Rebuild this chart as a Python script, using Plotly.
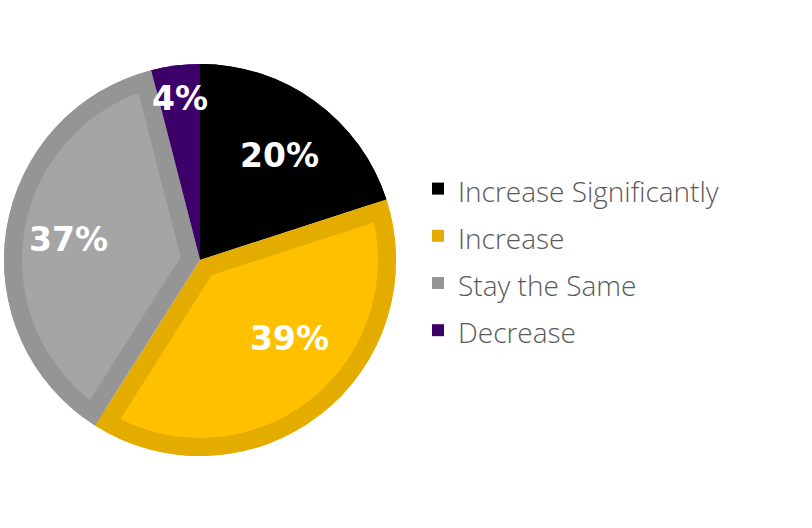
import math
import plotly.graph_objects as go

# ---- data ----
labels = ["Increase Significantly", "Increase", "Stay the Same", "Decrease"]
values = [20, 39, 37, 4]
fill_colors = ["#000000", "#FFC000", "#A5A5A5", "#3D0069"]
edge_colors = ["#000000", "#E5AC00", "#959595", "#3D0069"]

# ---- geometry / style ----
W, H = 812, 528
CX, CY, R = 200, 260, 196
BAND = 18
LEG_FONT = 34      # controls legend row spacing
LEG_TEXT = 28      # visible legend text size
# label placement: radius fraction and angular nudge (deg) per slice
LABEL_RFRAC = [0.67, 0.61, 0.68, 0.83]
LABEL_DANG = [1, -11, 0, 0]

def dom(cx, cy, half):
    return dict(x=[(cx - half) / W, (cx + half) / W],
                y=[1 - (cy + half) / H, 1 - (cy - half) / H])

total = sum(values)
half_ang = [math.pi * v / total for v in values]

# inner (lighter) slices: pulled so their straight edges sit BAND px inside
inset = [f != e for f, e in zip(fill_colors, edge_colors)]
offs = [BAND / math.sin(a) if ins else 0 for a, ins in zip(half_ang, inset)]
need = []
for a, d, ins in zip(half_ang, offs, inset):
    if ins:
        c = math.cos(a)
        Rin = R - BAND
        b = 2 * d * c
        need.append((-b + math.sqrt(b * b - 4 * (d * d - Rin * Rin))) / 2)
R2 = max(need)
pulls = [d / R2 for d in offs]
half2 = R2 * (1 + max(pulls))

leg_labels = [f'<span style="font-size:{LEG_TEXT}px">{l}</span>' for l in labels]

common = dict(labels=leg_labels, values=values, sort=False, direction="clockwise",
              rotation=0, hoverinfo="skip", textinfo="none")

fig = go.Figure()
# 1: full pie in border colours (also the legend)
fig.add_trace(go.Pie(**common, domain=dom(CX, CY, R),
                     marker=dict(colors=edge_colors, line=dict(width=0)),
                     showlegend=True))
# 2: lighter inset fills
fig.add_trace(go.Pie(**common, domain=dom(CX, CY, half2), pull=pulls,
                     marker=dict(colors=[f if ins else "rgba(0,0,0,0)"
                                         for f, ins in zip(fill_colors, inset)],
                                 line=dict(width=0)),
                     showlegend=False))
# 3: outer ring in border colours
fig.add_trace(go.Pie(**common, domain=dom(CX, CY, R), hole=(R - BAND) / R,
                     marker=dict(colors=edge_colors, line=dict(width=0)),
                     showlegend=False))

# percentage labels placed along each slice's bisector
annotations = []
cum = 0
for v, rf, da in zip(values, LABEL_RFRAC, LABEL_DANG):
    mid = 2 * math.pi * (cum + v / 2) / total + math.radians(da)
    cum += v
    px = CX + rf * R * math.sin(mid)
    py = CY - rf * R * math.cos(mid)
    annotations.append(dict(x=px / W, y=1 - py / H, xref="paper", yref="paper",
                            text=f"{round(100 * v / total)}%", showarrow=False,
                            xanchor="center", yanchor="middle",
                            font=dict(family="DejaVu Sans", size=33, color="white",
                                      weight="bold")))

fig.update_layout(
    width=W, height=H,
    margin=dict(l=0, r=0, t=0, b=0),
    paper_bgcolor="white", plot_bgcolor="white",
    annotations=annotations,
    legend=dict(x=418 / W, xanchor="left", y=1 - 160 / H, yanchor="top",
                font=dict(family="Open Sans", size=LEG_FONT, color="#595959", weight=300),
                bgcolor="rgba(0,0,0,0)", traceorder="normal"),
)
fig.write_html("out.html", config={"displayModeBar": False},
               post_script="document.body.style.margin='0';")
